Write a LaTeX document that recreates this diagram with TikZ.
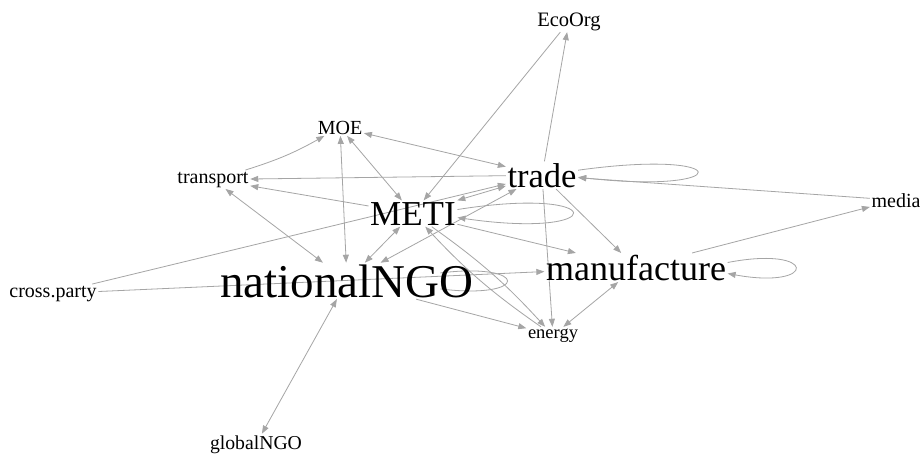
\documentclass[tikz,border=0pt]{standalone}
\usepackage{fontspec}
\setmainfont{Liberation Serif}
\usetikzlibrary{arrows.meta,calc,backgrounds}
\definecolor{edgegray}{RGB}{165,165,165}
\begin{document}
\begin{tikzpicture}[x=1pt,y=-1pt,
  lab/.style={anchor=base,inner sep=1.5pt,text=black},
  fs/.style={font=\fontsize{#1}{#1}\selectfont},
  edgeline/.style={draw=edgegray,line width=0.8pt},
  arr/.style={edgeline,-{Triangle[length=8pt,width=6pt]}},
  barr/.style={edgeline,{Triangle[length=8pt,width=6pt]}-{Triangle[length=8pt,width=6pt]}}
]
\useasboundingbox (0,0) rectangle (920,455);

\node[lab,fs=20.5] (eco) at (569,26) {EcoOrg};
\node[lab,fs=20] (moe) at (340,134) {MOE};
\node[lab,fs=20] (transport) at (213,183) {transport};
\node[lab,fs=34.5] (trade) at (542,187) {trade};
\node[lab,fs=35] (meti) at (413,225) {METI};
\node[lab,fs=20] (media) at (896,207) {media};
\node[lab,fs=20] (cross) at (53,297) {cross.party};
\node[lab,fs=47] (ngo) at (347,297) {nationalNGO};
\node[lab,fs=36] (manu) at (636,280) {manufacture};
\node[lab,fs=18.5] (energy) at (553,338) {energy};
\node[lab,fs=19.7] (global) at (256,449) {globalNGO};

\begin{scope}[on background layer]
\fill[white] (0,0) rectangle (920,455);
\draw[arr] (eco) -- (meti);
\draw[arr] (trade) -- (eco);
\draw[barr] (moe) -- (trade);
\draw[arr] (transport) to[bend right=6] (moe);
\draw[barr] (moe) -- (ngo);
\draw[barr] (moe) -- (meti);
\draw[arr] (trade) -- (transport);
\draw[arr] (meti) -- (transport);
\draw[barr] (transport) -- (ngo);
\draw[arr] (cross) -- (trade);
\draw[arr] (cross) -- (manu);
\draw[arr] (media) -- (trade);
\draw[arr] (manu) -- (media);
\draw[barr] (meti) -- (trade);
\draw[barr] (trade) -- (ngo);
\draw[barr] (meti) -- (ngo);
\draw[arr] (meti) -- (manu);
\draw[arr] (trade) -- (manu);
\draw[arr] (trade) -- (energy);
\draw[barr] (manu) -- (energy);
\draw[arr] (ngo) -- (energy);
\draw[arr] (meti) to[bend left=6] (energy);
\draw[arr] (energy) to[bend left=6] (meti);
\draw[barr] (ngo) -- (global);
% loops
\draw[arr] ($(trade.east)+(0,-5)$) .. controls (737,148) and (737,195) .. ($(trade.east)+(0,2)$);
\draw[arr] ($(meti.east)+(0,-4)$) .. controls (611,185) and (611,240) .. ($(meti.east)+(0,4)$);
\draw[arr] ($(manu.east)+(0,-5)$) .. controls (818,245) and (818,290) .. ($(manu.east)+(0,6)$);
\draw[edgeline] ($(ngo.east)+(-35,-8)$) .. controls (530,262) and (530,300) .. ($(ngo.east)+(-35,8)$);
\end{scope}
\end{tikzpicture}
\end{document}
